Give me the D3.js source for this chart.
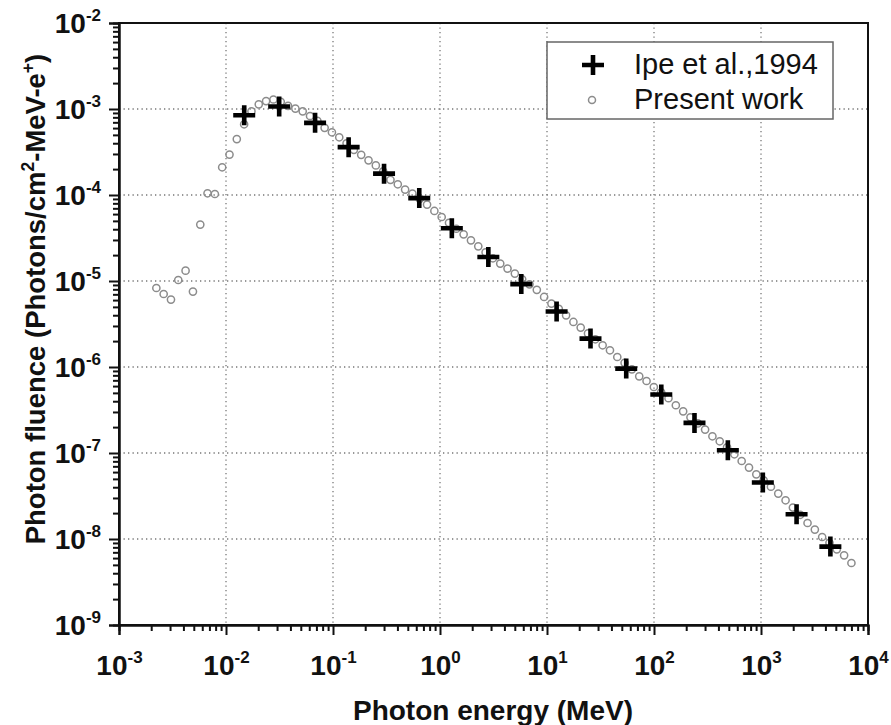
<!DOCTYPE html>
<html>
<head>
<meta charset="utf-8">
<script src="https://cdn.jsdelivr.net/npm/d3@7"></script>
<style>
  body { margin: 0; background: #fff; }
  text { font-family: "Liberation Sans", Arial, sans-serif; }
</style>
</head>
<body>
<svg id="chart" width="891" height="725"></svg>
<script>
// Ipe et al. (1994) reference spectrum
const ipeEnergy = [0.0148, 0.0314, 0.068, 0.14, 0.30, 0.64, 1.29, 2.83, 5.75, 12.3,
  25.5, 55, 117, 239, 490, 1040, 2150, 4450];
const ipeFluence = [8.45e-4, 1.07e-3, 6.9e-4, 3.6e-4, 1.77e-4, 9.2e-5, 4.1e-5, 1.9e-5,
  9.2e-6, 4.42e-6, 2.14e-6, 9.58e-7, 4.79e-7, 2.24e-7, 1.075e-7, 4.54e-8, 1.937e-8, 8.16e-9];

// Present-work spectrum (MeV)
const workEnergy = [
  2.234e-3, 2.615e-3, 3.06e-3, 3.58e-3, 4.19e-3, 4.91e-3, 5.75e-3, 6.72e-3, 7.87e-3, 9.21e-3,
  1.078e-2, 1.262e-2, 1.477e-2, 1.729e-2, 2.024e-2, 2.37e-2, 2.774e-2, 3.247e-2, 3.80e-2, 4.45e-2,
  5.21e-2, 6.10e-2, 7.14e-2, 8.35e-2, 9.77e-2, 0.1144, 0.1339, 0.1567, 0.1835, 0.2148,
  0.2514, 0.2943, 0.3445, 0.4032, 0.472, 0.5525, 0.6467, 0.757, 0.886, 1.037,
  1.214, 1.421, 1.663, 1.947, 2.279, 2.668, 3.123, 3.655, 4.278, 5.008,
  5.861, 6.861, 8.031, 9.40, 11.0, 12.88, 15.08, 17.65, 20.65, 24.17,
  28.30, 33.12, 38.77, 45.38, 53.12, 62.18, 72.78, 85.19, 99.7, 116.7,
  136.6, 160.0, 187.3, 219.2, 256.6, 300.3, 351.5, 411.5, 481.6, 563.7,
  659.8, 772.3, 904.0, 1058, 1238, 1450, 1697, 1987, 2325, 2722,
  3186, 3729, 4365, 5109, 5980, 7000];
const workFluence = [
  8.29e-6, 7.06e-6, 6.08e-6, 1.027e-5, 1.32e-5, 7.53e-6, 4.53e-5, 1.047e-4, 1.027e-4, 2.10e-4,
  2.95e-4, 4.47e-4, 6.64e-4, 9.40e-4, 1.134e-3, 1.235e-3, 1.29e-3, 1.213e-3, 1.089e-3, 1.011e-3,
  9.40e-4, 8.29e-4, 7.29e-4, 6.04e-4, 5.36e-4, 4.69e-4, 3.99e-4, 3.35e-4, 2.93e-4, 2.53e-4,
  2.21e-4, 1.886e-4, 1.502e-4, 1.332e-4, 1.155e-4, 1.038e-4, 9.03e-5, 7.73e-5, 6.52e-5, 5.55e-5,
  4.75e-5, 4.05e-5, 3.49e-5, 2.97e-5, 2.53e-5, 2.16e-5, 1.837e-5, 1.593e-5, 1.394e-5, 1.219e-5,
  1.047e-5, 9.15e-6, 7.90e-6, 6.52e-6, 5.46e-6, 4.75e-6, 3.99e-6, 3.34e-6, 2.87e-6, 2.46e-6,
  2.10e-6, 1.788e-6, 1.564e-6, 1.307e-6, 1.119e-6, 9.40e-7, 7.79e-7, 6.87e-7, 5.85e-7, 5.08e-7,
  4.33e-7, 3.59e-7, 3.05e-7, 2.60e-7, 2.21e-7, 1.872e-7, 1.564e-7, 1.368e-7, 1.165e-7, 9.66e-8,
  8.07e-8, 6.76e-8, 5.65e-8, 4.82e-8, 4.05e-8, 3.37e-8, 2.82e-8, 2.32e-8, 1.912e-8, 1.535e-8,
  1.286e-8, 1.055e-8, 9.03e-9, 7.59e-9, 6.46e-9, 5.26e-9];

const xTickExponents = [-3, -2, -1, 0, 1, 2, 3, 4];
const yTickExponents = [-9, -8, -7, -6, -5, -4, -3, -2];
const seriesNames = ["Ipe et al.,1994", "Present work"];
const xTitle = "Photon energy (MeV)";

const svg = d3.select("#chart");
const plotL = 119, plotR = 868, plotT = 23, plotB = 625;

const x = d3.scaleLog().domain([1e-3, 1e4]).range([plotL, plotR]);
const y = d3.scaleLog().domain([1e-9, 1e-2]).range([plotB, plotT]);

const majorX = xTickExponents.map(e => Math.pow(10, e));
const majorY = yTickExponents.map(e => Math.pow(10, e));
const minorsFor = exps => exps.slice(0, -1).flatMap(e => d3.range(2, 10).map(m => m * Math.pow(10, e)));

// dotted grid at each decade
const grid = svg.append("g").attr("stroke", "#777").attr("stroke-width", 1.3)
  .attr("stroke-dasharray", "1.3,3.2");
grid.selectAll("line.gx").data(majorX.slice(1, -1)).join("line")
  .attr("x1", d => x(d)).attr("x2", d => x(d)).attr("y1", plotT).attr("y2", plotB);
grid.selectAll("line.gy").data(majorY.slice(1, -1)).join("line")
  .attr("y1", d => y(d)).attr("y2", d => y(d)).attr("x1", plotL).attr("x2", plotR);

// frame
svg.append("rect").attr("x", plotL).attr("y", plotT).attr("width", plotR - plotL).attr("height", plotB - plotT)
  .attr("fill", "none").attr("stroke", "#111").attr("stroke-width", 2);

// axes: minor then major ticks
function styleAxis(g) {
  g.select(".domain").attr("stroke", "#111").attr("stroke-width", 2);
  g.selectAll(".tick line").attr("stroke", "#111").attr("stroke-width", 2);
}
svg.append("g").attr("transform", `translate(0,${plotB})`)
  .call(d3.axisBottom(x).tickValues(minorsFor(xTickExponents)).tickSize(6).tickFormat(""))
  .call(styleAxis);
svg.append("g").attr("transform", `translate(${plotL},0)`)
  .call(d3.axisLeft(y).tickValues(minorsFor(yTickExponents)).tickSize(6).tickFormat(""))
  .call(styleAxis);

function powerLabel(sel, exps) {
  sel.selectAll(".tick text").each(function (d, i) {
    const t = d3.select(this).text(null)
      .attr("fill", "#111").attr("font-weight", "bold").attr("font-size", 28);
    t.append("tspan").text("10");
    t.append("tspan").attr("dy", -12).attr("font-size", 17).text(exps[i]);
  });
}
svg.append("g").attr("transform", `translate(0,${plotB})`)
  .call(d3.axisBottom(x).tickValues(majorX).tickSize(10).tickPadding(10))
  .call(styleAxis).call(g => powerLabel(g, xTickExponents))
  .selectAll(".tick text").attr("dy", 30);
svg.append("g").attr("transform", `translate(${plotL},0)`)
  .call(d3.axisLeft(y).tickValues(majorY).tickSize(10).tickPadding(8))
  .call(styleAxis).call(g => powerLabel(g, yTickExponents))
  .selectAll(".tick text").attr("dy", 9.5);

// axis titles
svg.append("text").attr("x", (plotL + plotR) / 2 - 0.5).attr("y", 720)
  .attr("text-anchor", "middle").attr("font-weight", "bold").attr("font-size", 28).attr("fill", "#111")
  .text(xTitle);
const yt = svg.append("text").attr("transform", "translate(45,299) rotate(-90)")
  .attr("text-anchor", "middle").attr("font-weight", "bold").attr("font-size", 27.5).attr("fill", "#111");
yt.append("tspan").text("Photon fluence (Photons/cm");
yt.append("tspan").attr("dy", -11).attr("font-size", 17.5).text("2");
yt.append("tspan").attr("dy", 11).text("-MeV-e");
yt.append("tspan").attr("dy", -11).attr("font-size", 17.5).text("+");
yt.append("tspan").attr("dy", 11).text(")");

// present work: open circles
svg.append("g").selectAll("circle").data(workEnergy).join("circle")
  .attr("cx", d => x(d)).attr("cy", (d, i) => y(workFluence[i])).attr("r", 3.6)
  .attr("fill", "none").attr("stroke", "#8c8c8c").attr("stroke-width", 1.5);

// Ipe et al.: bold plus markers
const crossPath = "M-11,0H11M0,-10V10";
svg.append("g").selectAll("path").data(ipeEnergy).join("path")
  .attr("transform", (d, i) => `translate(${x(d)},${y(ipeFluence[i])})`)
  .attr("d", crossPath).attr("stroke", "#000").attr("stroke-width", 4.6).attr("fill", "none");

// legend
const lg = svg.append("g");
lg.append("rect").attr("x", 547).attr("y", 42).attr("width", 286).attr("height", 77)
  .attr("fill", "#fff").attr("stroke", "#666").attr("stroke-width", 1.5);
lg.append("path").attr("transform", "translate(593,65)").attr("d", crossPath)
  .attr("stroke", "#000").attr("stroke-width", 4.6).attr("fill", "none");
lg.append("circle").attr("cx", 592).attr("cy", 100).attr("r", 3.5)
  .attr("fill", "none").attr("stroke", "#8c8c8c").attr("stroke-width", 1.5);
lg.selectAll("text").data(seriesNames).join("text")
  .attr("x", 634).attr("y", (d, i) => 73.5 + i * 35)
  .attr("font-size", 29).attr("fill", "#111").text(d => d);
</script>
</body>
</html>
